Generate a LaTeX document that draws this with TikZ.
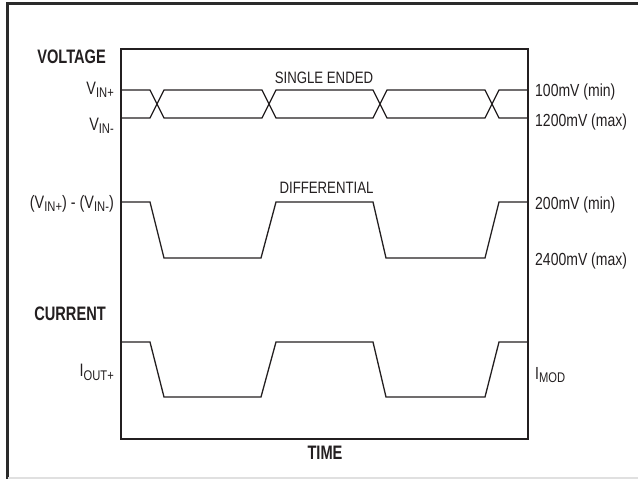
\documentclass[tikz,border=0pt]{standalone}
\usepackage{fontspec}
\setmainfont{Liberation Sans}[FakeStretch=0.8]
\newfontfamily\boldcond{Liberation Sans}[FakeStretch=0.75]
\definecolor{ink}{HTML}{231F20}
\definecolor{frm}{HTML}{2A2A2A}
\newcommand{\sbs}[1]{\raisebox{-3.5pt}{\fontsize{14}{14}\selectfont #1}}
\tikzset{
  axis/.style={draw=ink, line width=1.3pt},
  wave/.style={draw=ink, line width=1.3pt, line join=miter},
  lbl/.style={text=ink, inner sep=0pt, font=\fontsize{18}{20}\selectfont},
  rlbl/.style={text=ink, inner sep=0pt, font=\fontsize{17.5}{20}\selectfont},
  clbl/.style={text=ink, inner sep=0pt, font=\fontsize{16.5}{20}\selectfont},
  blbl/.style={text=ink, inner sep=0pt, font=\boldcond\fontsize{19.5}{22}\selectfont\bfseries},
}
\begin{document}
\begin{tikzpicture}[x=1pt,y=-1pt]
\useasboundingbox (0,0) rectangle (638,479);
% outer frame
\draw[frm, line width=2.6pt] (7.5,479) -- (7.5,3.3) -- (638,3.3);
\draw[black!12, line width=1.5pt] (7.5,478) -- (638,478);
% axes box
\draw[axis] (121,49) rectangle (528,439);
% single ended
\draw[wave] (121,90) -- (150,90) -- (164,118) -- (262,118) -- (276,90) -- (373,90) -- (387,118) -- (485,118) -- (499,90) -- (528,90);
\draw[wave] (121,118) -- (150,118) -- (164,90) -- (262,90) -- (276,118) -- (373,118) -- (387,90) -- (485,90) -- (499,118) -- (528,118);
% differential
\draw[wave] (121,202) -- (150,202) -- (164,258) -- (261,258) -- (276,202) -- (373,202) -- (386,258) -- (485,258) -- (499,202) -- (528,202);
% current
\draw[wave] (121,342) -- (150,342) -- (164,397) -- (261,397) -- (276,342) -- (373,342) -- (386,397) -- (485,397) -- (499,342) -- (528,342);
% labels
\node[blbl, anchor=base east] (volt) at (106,63.5) {VOLTAGE};
\node[lbl, anchor=base east] (vinp) at (114,94) {V\sbs{IN+}};
\node[lbl, anchor=base east] (vinm) at (114,130) {V\sbs{IN-}};
\node[lbl, anchor=base east] (vdiff) at (114,208.3) {(V\sbs{IN+}) - (V\sbs{IN-})};
\node[blbl, anchor=base east] (curr) at (106,320) {CURRENT};
\node[lbl, anchor=base east] (iout) at (114,376.5) {I\sbs{OUT+}};
\node[blbl, anchor=base] (time) at (325,459.5) {TIME};
\node[clbl, anchor=base] (se) at (324,83.3) {SINGLE ENDED};
\node[clbl, anchor=base] (diff) at (326.5,193.3) {DIFFERENTIAL};
\node[rlbl, anchor=base west] (r1) at (535,96.7) {100mV (min)};
\node[rlbl, anchor=base west] (r2) at (535,126) {1200mV (max)};
\node[rlbl, anchor=base west] (r3) at (535,209.3) {200mV (min)};
\node[rlbl, anchor=base west] (r4) at (535,265) {2400mV (max)};
\node[rlbl, anchor=base west] (imod) at (535,379.3) {I\sbs{MOD}};
\end{tikzpicture}
\end{document}
